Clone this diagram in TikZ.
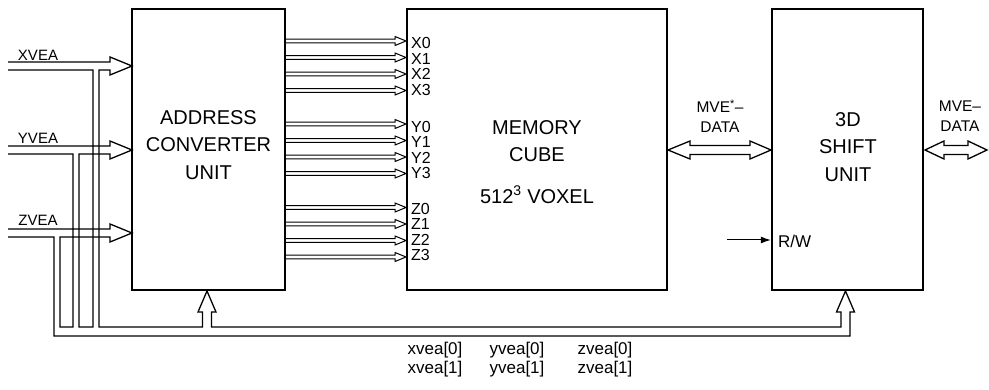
\documentclass[tikz,border=0pt]{standalone}
\usepackage{fontspec}
\setmainfont{Liberation Sans}
\usetikzlibrary{arrows.meta,positioning,calc}
\tikzset{unitbox/.style={draw,line width=2.4pt,inner sep=0pt},unittext/.style={font=\fontsize{20}{27.5}\selectfont,align=center},busline/.style={line width=1.3pt,line join=miter},pinarr/.style={line width=1pt},pinlabel/.style={font=\fontsize{16}{16}\selectfont,anchor=west,inner sep=0pt},buslabel/.style={font=\fontsize{15.5}{20}\selectfont,align=center,inner sep=0pt},inlabel/.style={font=\fontsize{15}{18}\selectfont,inner sep=0pt},bitlabel/.style={font=\fontsize{17}{19}\selectfont,align=left,inner sep=0pt},rwarr/.style={-{Latex[length=10pt,width=7pt]},line width=1pt}}

\begin{document}
\begin{tikzpicture}[x=1pt,y=-1pt]
\useasboundingbox (0,0) rectangle (989,390);
\node[unitbox,minimum width=153pt,minimum height=281pt] (acu) at (208.5,149.5) {};
\node[unitbox,minimum width=260pt,minimum height=281pt] (mem) at (537,149.5) {};
\node[unitbox,minimum width=151pt,minimum height=281pt] (shu) at (847.5,149.5) {};
\node[unittext] (acutxt) at (208.5,145) {ADDRESS\\CONVERTER\\UNIT};
\node[unittext] (memtxt) at (537,162) {MEMORY\\CUBE\\[14pt]512\textsuperscript{3} VOXEL};
\node[unittext] (shutxt) at (848,147) {3D\\SHIFT\\UNIT};
\node[inlabel] (xvea) at (38,55) {XVEA};
\node[inlabel] (yvea) at (38,138) {YVEA};
\node[inlabel] (zvea) at (38,220) {ZVEA};
\draw[busline] (8,62) -- (110,62) -- (110,57) -- (132,66) -- (110,75) -- (110,70) -- (99,70) -- (99,327) -- (202.5,327) -- (202.5,312) -- (198,312) -- (207,291) -- (216,312) -- (211.5,312) -- (211.5,327) -- (841,327) -- (841,312) -- (836.5,312) -- (845.5,291) -- (854.5,312) -- (850,312) -- (850,336) -- (54,336) -- (54,237) -- (8,237);
\draw[busline] (8,70) -- (93,70) -- (93,327) -- (79,327) -- (79,154) -- (110,154) -- (110,159) -- (132,150) -- (110,141) -- (110,146) -- (8,146);
\draw[busline] (8,154) -- (73,154) -- (73,327) -- (60,327) -- (60,237) -- (110,237) -- (110,242) -- (132,233) -- (110,224) -- (110,229) -- (8,229);
\foreach \g/\b/\c in {X/41/43,Y/124/126.5,Z/207.5/208.5}
  \foreach \i in {0,...,3}{
    \pgfmathsetmacro\y{\b+16.5*\i}
    \pgfmathsetmacro\ly{\c+15.5*\i}
    \draw[pinarr] (286,\y-1.8) -- (395,\y-1.8) -- (395,\y-4.5) -- (406,\y) -- (395,\y+4.5) -- (395,\y+1.8) -- (286,\y+1.8);
    \node[pinlabel] (pin\g\i) at (411,\ly) {\g\i};
  }
\draw[busline] (668,150) -- (690,141) -- (690,145.5) -- (750,145.5) -- (750,141) -- (771,150) -- (750,159) -- (750,154.5) -- (690,154.5) -- (690,159) -- cycle;
\draw[busline] (925,150) -- (944,141) -- (944,145.5) -- (968,145.5) -- (968,141) -- (987,150) -- (968,159) -- (968,154.5) -- (944,154.5) -- (944,159) -- cycle;
\node[buslabel] (mvestar) at (720,116) {MVE\textsuperscript{*}--\\DATA};
\node[buslabel] (mveout) at (960,116) {MVE--\\DATA};
\coordinate (rwin) at (727,240);
\draw[rwarr] (rwin) -- (shu.west |- rwin);
\node[buslabel,font=\fontsize{17}{20}\selectfont,anchor=west] (rw) at (778,241) {R/W};
\node[bitlabel] (xbits) at (435,360) {xvea[0]\\xvea[1]};
\node[bitlabel] (ybits) at (517,360) {yvea[0]\\yvea[1]};
\node[bitlabel] (zbits) at (605,360) {zvea[0]\\zvea[1]};
\end{tikzpicture}
\end{document}
